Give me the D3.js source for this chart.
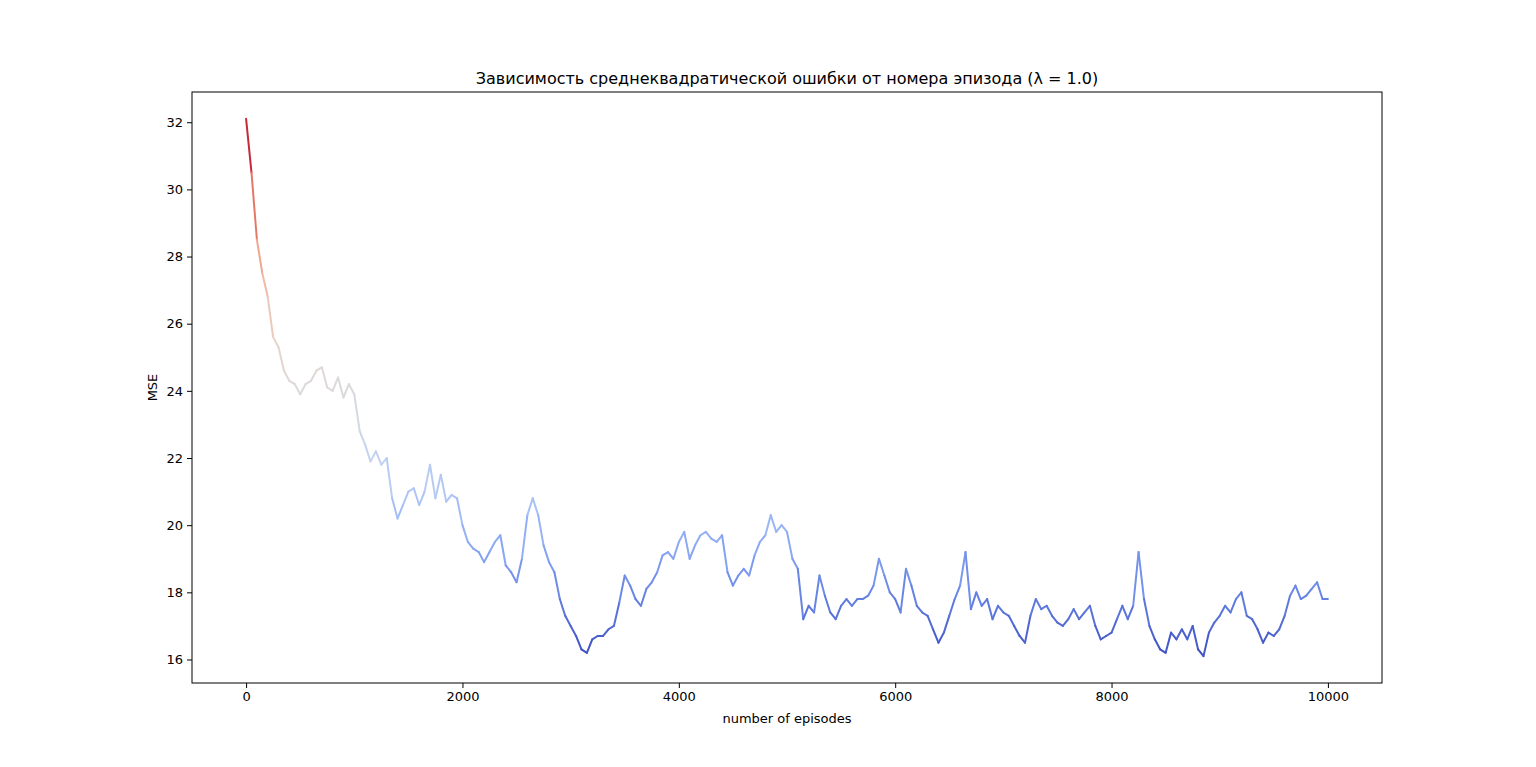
<!DOCTYPE html>
<html><head><meta charset="utf-8">
<script src="https://cdn.jsdelivr.net/npm/d3@7"></script>
<style>body{margin:0;background:#fff}text{font-family:"DejaVu Sans",sans-serif;fill:#000}</style>
</head><body><svg id="c" width="1536" height="767"></svg>
<script>
const title = "Зависимость среднеквадратической ошибки от номера эпизода (λ = 1.0)";
const xLabel = "number of episodes";
const yLabel = "MSE";
const episodeStep = 50;
const mse = [32.1,30.5,28.5,27.5,26.8,25.6,25.3,24.6,24.3,24.2,23.9,24.2,24.3,24.6,24.7,24.1,24.0,24.4,23.8,24.2,
23.9,22.8,22.4,21.9,22.2,21.8,22.0,20.8,20.2,20.6,21.0,21.1,20.6,21.0,21.8,20.8,21.5,20.7,20.9,20.8,
20.0,19.5,19.3,19.2,18.9,19.2,19.5,19.7,18.8,18.6,18.3,19.0,20.3,20.8,20.3,19.4,18.9,18.6,17.8,17.3,
17.0,16.7,16.3,16.2,16.6,16.7,16.7,16.9,17.0,17.7,18.5,18.2,17.8,17.6,18.1,18.3,18.6,19.1,19.2,19.0,
19.5,19.8,19.0,19.4,19.7,19.8,19.6,19.5,19.7,18.6,18.2,18.5,18.7,18.5,19.1,19.5,19.7,20.3,19.8,20.0,
19.8,19.0,18.7,17.2,17.6,17.4,18.5,17.9,17.4,17.2,17.6,17.8,17.6,17.8,17.8,17.9,18.2,19.0,18.5,18.0,
17.8,17.4,18.7,18.2,17.6,17.4,17.3,16.9,16.5,16.8,17.3,17.8,18.2,19.2,17.5,18.0,17.6,17.8,17.2,17.6,
17.4,17.3,17.0,16.7,16.5,17.3,17.8,17.5,17.6,17.3,17.1,17.0,17.2,17.5,17.2,17.4,17.6,17.0,16.6,16.7,
16.8,17.2,17.6,17.2,17.6,19.2,17.8,17.0,16.6,16.3,16.2,16.8,16.6,16.9,16.6,17.0,16.3,16.1,16.8,17.1,
17.3,17.6,17.4,17.8,18.0,17.3,17.2,16.9,16.5,16.8,16.7,16.9,17.3,17.9,18.2,17.8,17.9,18.1,18.3,17.8,17.8];
const xTicks = [0,2000,4000,6000,8000,10000];
const yTicks = [16,18,20,22,24,26,28,30,32];

const data = mse.map((v,i)=>({x:i*episodeStep,y:v}));
const svg = d3.select("#c");
const L=192,R=1382,T=92,B=683;
const x = d3.scaleLinear().domain([-500,10500]).range([L,R]);
const ymin=d3.min(mse), ymax=d3.max(mse), pad=(ymax-ymin)*0.05;
const y = d3.scaleLinear().domain([ymin-pad,ymax+pad]).range([B,T]);
const cw = d3.interpolateRgbBasis(["#3b4cc0","#7b9ff9","#c0d4f5","#dddddd","#f2cbb7","#ee8468","#b40426"]);
const norm = d3.scaleLinear().domain([ymin,ymax]).range([0,1]);

const g = svg.append("g");
for(let i=0;i<data.length-1;i++){
  const a=data[i], b=data[i+1];
  g.append("line").attr("x1",x(a.x)).attr("y1",y(a.y)).attr("x2",x(b.x)).attr("y2",y(b.y))
   .attr("stroke",cw(norm((a.y+b.y)/2))).attr("stroke-width",2).attr("stroke-linecap","round");
}
svg.append("rect").attr("x",L).attr("y",T).attr("width",R-L).attr("height",B-T).attr("fill","none").attr("stroke","#000").attr("stroke-width",1);
const xa = svg.append("g").attr("transform",`translate(0,${B})`).call(d3.axisBottom(x).tickValues(xTicks).tickFormat(d3.format("d")).tickSize(5).tickPadding(4));
const ya = svg.append("g").attr("transform",`translate(${L},0)`).call(d3.axisLeft(y).tickValues(yTicks).tickSize(5).tickPadding(4));
[xa,ya].forEach(a=>{a.select(".domain").remove();a.selectAll("text").style("font-size","13px").style("font-family","DejaVu Sans");});
svg.append("text").attr("x",(L+R)/2).attr("y",T-8).attr("text-anchor","middle").style("font-size","16px").text(title);
svg.append("text").attr("x",(L+R)/2).attr("y",723).attr("text-anchor","middle").style("font-size","13px").text(xLabel);
svg.append("text").attr("transform",`translate(157,${(T+B)/2}) rotate(-90)`).attr("text-anchor","middle").style("font-size","13px").text(yLabel);
</script></body></html>
